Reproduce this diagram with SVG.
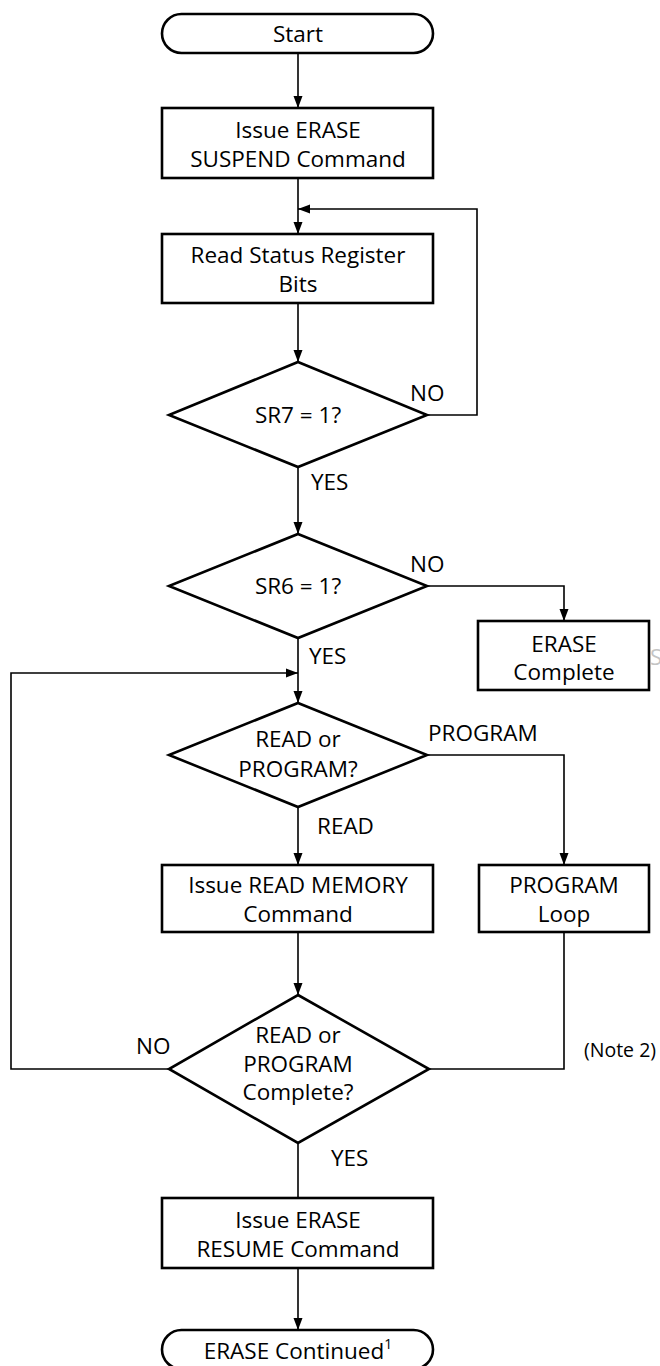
<svg xmlns="http://www.w3.org/2000/svg" width="660" height="1366" viewBox="0 0 660 1366">
<style>
.shape{fill:#fff;stroke:#000;stroke-width:2.6}
.conn{fill:none;stroke:#000;stroke-width:1.6}
text{font-family:"Open Sans","Noto Sans","Liberation Sans",sans-serif;font-size:22.5px;fill:#000}
.c{text-anchor:middle}
</style>
<defs>
<marker id="ah" markerWidth="12" markerHeight="10" refX="12" refY="5" orient="auto" markerUnits="userSpaceOnUse">
<path d="M0,0.5 L12,5 L0,9.5 Z" fill="#000"/>
</marker>
</defs>
<rect width="660" height="1366" fill="#fff"/>
<g id="connectors">
<line class="conn" x1="298" y1="53" x2="298" y2="108" marker-end="url(#ah)"/>
<line class="conn" x1="298" y1="178" x2="298" y2="234" marker-end="url(#ah)"/>
<polyline class="conn" points="428,415 477,415 477,209 298,209" marker-end="url(#ah)"/>
<line class="conn" x1="298" y1="303" x2="298" y2="362" marker-end="url(#ah)"/>
<line class="conn" x1="298" y1="467" x2="298" y2="534" marker-end="url(#ah)"/>
<polyline class="conn" points="427,586 564,586 564,621" marker-end="url(#ah)"/>
<line class="conn" x1="298" y1="638" x2="298" y2="703" marker-end="url(#ah)"/>
<polyline class="conn" points="170,1069 11,1069 11,673 298,673" marker-end="url(#ah)"/>
<line class="conn" x1="298" y1="807" x2="298" y2="865" marker-end="url(#ah)"/>
<polyline class="conn" points="427,755 564,755 564,865" marker-end="url(#ah)"/>
<line class="conn" x1="298" y1="932" x2="298" y2="995" marker-end="url(#ah)"/>
<polyline class="conn" points="564,932 564,1069 429,1069"/>
<line class="conn" x1="298" y1="1143" x2="298" y2="1198"/>
<line class="conn" x1="298" y1="1268" x2="298" y2="1330" marker-end="url(#ah)"/>
<text x="410" y="401">NO</text>
<text x="311" y="490">YES</text>
<text x="410" y="572">NO</text>
<text x="309" y="664">YES</text>
<text x="428" y="741">PROGRAM</text>
<text x="317" y="834">READ</text>
<text x="136" y="1054">NO</text>
<text x="331" y="1166">YES</text>
<text x="584" y="1057" style="font-size:19.5px">(Note 2)</text>
</g>
<g id="start">
<rect class="shape" x="162" y="14" width="271" height="39" rx="19.5"/>
<text class="c" x="298" y="42">Start</text>
</g>
<g id="suspend">
<rect class="shape" x="162" y="108" width="271" height="70"/>
<text class="c" x="298" y="138">Issue ERASE</text>
<text class="c" x="298" y="167">SUSPEND Command</text>
</g>
<g id="readstatus">
<rect class="shape" x="162" y="234" width="271" height="69"/>
<text class="c" x="298" y="263">Read Status Register</text>
<text class="c" x="298" y="292">Bits</text>
</g>
<g id="sr7">
<polygon class="shape" points="298,362 427,415 298,467 169,415"/>
<text class="c" x="298" y="423">SR7 = 1?</text>
</g>
<g id="sr6">
<polygon class="shape" points="298,534 427,586 298,638 169,586"/>
<text class="c" x="298" y="594">SR6 = 1?</text>
</g>
<g id="erasecomplete">
<rect class="shape" x="478" y="621" width="171" height="69"/>
<text class="c" x="564" y="652">ERASE</text>
<text class="c" x="564" y="680">Complete</text>
</g>
<g id="readorprogram">
<polygon class="shape" points="298,703 427,755 298,807 169,755"/>
<text class="c" x="298" y="747">READ or</text>
<text class="c" x="298" y="777">PROGRAM?</text>
</g>
<g id="readmemory">
<rect class="shape" x="162" y="865" width="271" height="67"/>
<text class="c" x="298" y="893">Issue READ MEMORY</text>
<text class="c" x="298" y="922">Command</text>
</g>
<g id="programloop">
<rect class="shape" x="479" y="865" width="170" height="67"/>
<text class="c" x="564" y="893">PROGRAM</text>
<text class="c" x="564" y="922">Loop</text>
</g>
<g id="complete">
<polygon class="shape" points="298,995 429,1069 298,1143 169,1069"/>
<text class="c" x="298" y="1043">READ or</text>
<text class="c" x="298" y="1072">PROGRAM</text>
<text class="c" x="298" y="1100">Complete?</text>
</g>
<g id="resume">
<rect class="shape" x="162" y="1198" width="271" height="70"/>
<text class="c" x="298" y="1228">Issue ERASE</text>
<text class="c" x="298" y="1257">RESUME Command</text>
</g>
<g id="continued">
<rect class="shape" x="162" y="1330" width="271" height="39" rx="19.5"/>
<text class="c" x="298" y="1359">ERASE Continued<tspan dy="-10" style="font-size:14px">1</tspan></text>
</g>
<text x="650" y="665" style="font-size:22px;fill:#c4c4c4">S</text>
</svg>
